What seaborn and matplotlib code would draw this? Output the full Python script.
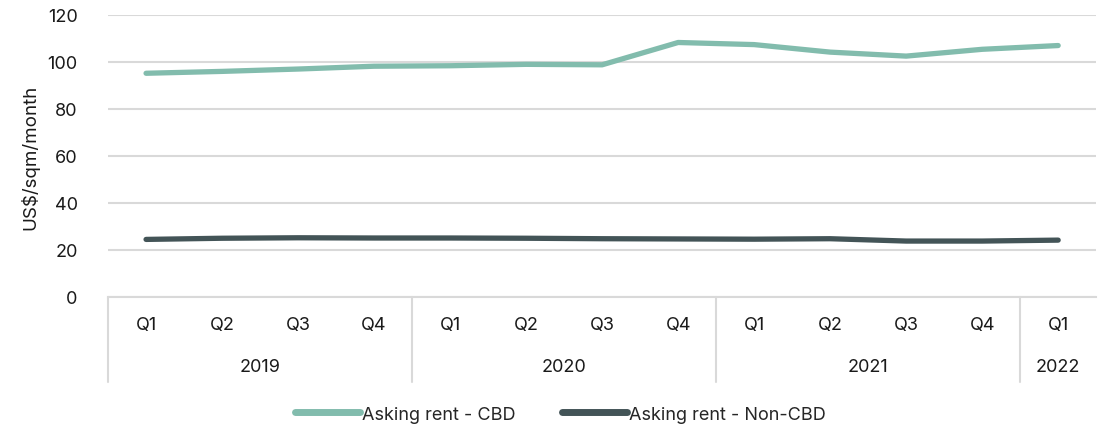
import matplotlib
matplotlib.use("Agg")
import matplotlib.pyplot as plt
import matplotlib.transforms as mtransforms
import seaborn as sns
import pandas as pd
import numpy as np

quarters = ["Q1", "Q2", "Q3", "Q4", "Q1", "Q2", "Q3", "Q4", "Q1", "Q2", "Q3", "Q4", "Q1"]
years = ["2019", "2020", "2021", "2022"]
year_counts = [4, 4, 4, 1]
cbd = [95.2, 96.0, 97.0, 98.2, 98.4, 99.0, 98.8, 108.3, 107.4, 104.2, 102.5, 105.4, 107.0]
non_cbd = [24.5, 25.0, 25.2, 25.1, 25.1, 25.0, 24.8, 24.7, 24.6, 24.8, 23.8, 23.8, 24.2]
series_names = ["Asking rent - CBD", "Asking rent - Non-CBD"]
colors = ["#82BCAD", "#435457"]

sns.set_theme(style="white")
plt.rcParams["font.family"] = ["Inter", "DejaVu Sans"]

idx = np.arange(len(quarters))
df = pd.DataFrame({
    "pos": np.concatenate([idx, idx]),
    "value": cbd + non_cbd,
    "series": [series_names[0]] * len(cbd) + [series_names[1]] * len(non_cbd),
})

fig = plt.figure(figsize=(11.14, 4.31), dpi=100)
ax = fig.add_axes([0.097, 0.3086, 0.887, 0.6543])

sns.lineplot(data=df, x="pos", y="value", hue="series", palette=colors,
             linewidth=3.8, ax=ax, legend=True, solid_capstyle="round")

ax.set_xlim(-0.5, len(quarters) - 0.5)
ax.set_ylim(0, 120)
ax.set_yticks(range(0, 121, 20))
ax.yaxis.grid(True, color="#D9D9D9", linewidth=1.5)
ax.set_axisbelow(True)
for s in ["top", "right", "left"]:
    ax.spines[s].set_visible(False)
ax.spines["bottom"].set_color("#D9D9D9")
ax.spines["bottom"].set_linewidth(1.5)
ax.tick_params(axis="y", length=0, pad=22, labelsize=13, labelcolor="#1a1a1a")
ax.set_xticks([])
ax.set_xlabel("")
ax.set_ylabel("US$/sqm/month", fontsize=13.5, color="#1a1a1a", labelpad=6)

trans = mtransforms.blended_transform_factory(ax.transData, ax.transAxes)
for i, q in enumerate(quarters):
    ax.text(i, -0.096, q, transform=trans, ha="center", va="center",
            fontsize=13, color="#1a1a1a")

start = -0.5
ax.plot([start, start], [0, -0.30], transform=trans, color="#D9D9D9",
        linewidth=1.5, clip_on=False)
for y, n in zip(years, year_counts):
    end = start + n
    ax.text((start + end) / 2, -0.245, y, transform=trans, ha="center",
            va="center", fontsize=13, color="#1a1a1a")
    if end < len(quarters) - 0.5:
        ax.plot([end, end], [0, -0.30], transform=trans, color="#D9D9D9",
                linewidth=1.5, clip_on=False)
    start = end

handles, labels = ax.get_legend_handles_labels()
ax.legend_.remove()
for h in handles:
    h.set_linewidth(5)
    h.set_solid_capstyle("round")
fig.legend(handles, labels, loc="center", bbox_to_anchor=(0.503, 0.037),
           ncol=2, frameon=False, fontsize=13, handlelength=3.6,
           handletextpad=0.1, columnspacing=2.6)

fig.savefig("out.png", dpi=100)
